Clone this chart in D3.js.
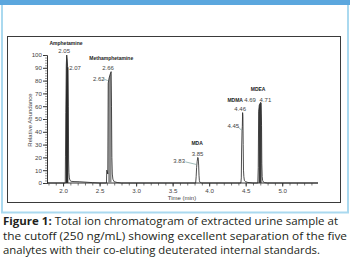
<!DOCTYPE html>
<html><head><meta charset="utf-8">
<script src="https://cdn.jsdelivr.net/npm/d3@7"></script>
<style>html,body{margin:0;padding:0;background:#fff;}svg{display:block;}</style>
</head><body>
<script>
// ---- data ----
const yTicks = [0,10,20,30,40,50,60,70,80,90,100];
const xTicks = [2.0,2.5,3.0,3.5,4.0,4.5,5.0];
const xTickLabels = ["2.0","2.5","3.0","3.5","4.0","4.5","5.0"];
const baselineA = [[1.78,0],[2.00,0],[2.030,0]];
const amphetamine = [[2.033,21],[2.038,55],[2.044,92],[2.050,100],[2.056,97],[2.062,91],[2.068,90],[2.072,60],[2.076,18],[2.080,8],[2.086,4],[2.095,2],[2.11,1.3],[2.15,1.1],[2.22,1],[2.30,0.7],[2.40,0.3],[2.50,0]];
const methamphetamine = [[2.594,0],[2.598,10],[2.606,9],[2.612,7],[2.618,78],[2.630,82],[2.645,85],[2.658,87],[2.663,60],[2.668,20],[2.674,7],[2.682,3],[2.70,1],[2.74,0.4],[2.80,0]];
const mda = [[3.00,0],[3.50,0],[3.815,0],[3.822,5],[3.828,12],[3.836,17],[3.844,20],[3.850,19.5],[3.856,14],[3.861,6],[3.866,2],[3.872,0.8],[3.88,0.3],[3.90,0]];
const mdma = [[4.00,0],[4.30,0],[4.434,0],[4.440,4],[4.444,25],[4.450,41],[4.454,44],[4.458,55],[4.462,52],[4.466,30],[4.470,10],[4.475,5],[4.482,2],[4.50,1],[4.53,0.4],[4.60,0]];
const mdea = [[4.666,0],[4.672,12],[4.678,56],[4.686,61],[4.695,62],[4.705,63],[4.712,62.5],[4.717,45],[4.721,15],[4.726,5],[4.732,2],[4.742,0.8],[4.76,0.3],[4.80,0],[5.00,0],[5.20,0],[5.49,0]];
const filledPeaks = [
  {from:2.036, to:2.074, color:"#2b2b2b"},
  {from:2.616, to:2.664, color:"#8c8c8c"},
  {from:4.676, to:4.719, color:"#3a3a3a"}
];
const compoundLabels = [
  {text:"Amphetamine", t:2.04, v:108},
  {text:"Methamphetamine", t:2.66, v:96},
  {text:"MDA", t:3.835, v:29.7},
  {text:"MDMA", t:4.356, v:63},
  {text:"MDEA", t:4.67, v:72}
];
const rtLabels = [
  {text:"2.05", t:2.015, v:101.5},
  {text:"2.07", t:2.165, v:88},
  {text:"2.66", t:2.616, v:88},
  {text:"2.62", t:2.49, v:80},
  {text:"3.85", t:3.84, v:21},
  {text:"3.83", t:3.59, v:15.6},
  {text:"4.46", t:4.425, v:56},
  {text:"4.45", t:4.33, v:43},
  {text:"4.69", t:4.56, v:63},
  {text:"4.71", t:4.77, v:63}
];
const leaders = [
  {t1:3.675, v1:16.5, t2:3.823, v2:14.5},
  {t1:4.395, v1:44, t2:4.446, v2:41},
  {t1:2.545, v1:81.5, t2:2.612, v2:80}
];
const captionLines = [
  ["Figure 1:", " Total ion chromatogram of extracted urine sample at"],
  ["", "the cutoff (250 ng/mL) showing excellent separation of the five"],
  ["", "analytes with their co-eluting deuterated internal standards."]
];

// ---- drawing ----
const W = 350, H = 267;
const svg = d3.select("body").append("svg").attr("width", W).attr("height", H);

// frame
svg.append("rect").attr("x",0).attr("y",0).attr("width",W).attr("height",5).attr("fill","#5ba7de");
svg.append("path").attr("d","M2,5V212.5H348V5").attr("fill","none").attr("stroke","#aad9ef").attr("stroke-width",2);
svg.append("rect").attr("x",7.5).attr("y",36.5).attr("width",333).attr("height",166).attr("fill","#fff").attr("stroke","#3a3a3a").attr("stroke-width",1);

const x = d3.scaleLinear().domain([1.78, 5.49]).range([47, 318]);
const y = d3.scaleLinear().domain([0, 100]).range([183, 55]);

const txt = "#444";
const font = "Liberation Sans, Arial, sans-serif";

// y axis
const yAxis = d3.axisLeft(y).tickValues(yTicks).tickSize(4).tickPadding(1).tickFormat(d3.format("d"));
const gy = svg.append("g").attr("transform",`translate(${x(1.78)},0)`).call(yAxis);
gy.select(".domain").attr("stroke","#333");
gy.selectAll(".tick line").attr("stroke","#333");
gy.selectAll("text").attr("font-family",font).attr("font-size",6.2).attr("fill",txt);
const yMinor = d3.axisLeft(y).tickValues(d3.range(0,101,2)).tickSize(2).tickFormat("");
const gym = svg.append("g").attr("transform",`translate(${x(1.78)},0)`).call(yMinor);
gym.select(".domain").remove();
gym.selectAll(".tick line").attr("stroke","#555").attr("stroke-width",0.6);

// x axis
const xAxis = d3.axisBottom(x).tickValues(xTicks).tickSize(3.5).tickPadding(2).tickFormat((d,i)=>xTickLabels[i]);
const gx = svg.append("g").attr("transform",`translate(0,${y(0)})`).call(xAxis);
gx.select(".domain").attr("stroke","#333").attr("d",`M${x(1.78)},0H${x(5.49)}`);
gx.selectAll(".tick line").attr("stroke","#333");
gx.selectAll("text").attr("font-family",font).attr("font-size",6.2).attr("fill",txt);
const xMinorVals = d3.range(18,55).map(d=>d/10);
const xMinor = d3.axisBottom(x).tickValues(xMinorVals).tickSize(2.5).tickFormat("");
const gxm = svg.append("g").attr("transform",`translate(0,${y(0)})`).call(xMinor);
gxm.select(".domain").remove();
gxm.selectAll(".tick line").attr("stroke","#444").attr("stroke-width",0.7);

// axis titles
svg.append("text").attr("x",182).attr("y",200).attr("text-anchor","middle")
  .attr("font-family",font).attr("font-size",6).attr("fill",txt).text("Time (min)");
svg.append("text").attr("transform","translate(32,120) rotate(-90)").attr("text-anchor","middle")
  .attr("font-family",font).attr("font-size",6).attr("fill",txt).text("Relative Abundance");

// trace
const trace = [].concat(baselineA, amphetamine, methamphetamine, mda, mdma, mdea);
filledPeaks.forEach(p=>{
  const area = d3.area().x(d=>x(d[0])).y0(y(0)).y1(d=>y(d[1]))
    .defined(d=>d[0]>=p.from && d[0]<=p.to);
  svg.append("path").datum(trace).attr("d",area).attr("fill",p.color);
});
const line = d3.line().x(d=>x(d[0])).y(d=>y(d[1]));
svg.append("path").datum(trace).attr("d",line).attr("fill","none").attr("stroke","#222").attr("stroke-width",0.8);

// leaders
svg.selectAll("line.leader").data(leaders).join("line").attr("class","leader")
  .attr("x1",d=>x(d.t1)).attr("y1",d=>y(d.v1)).attr("x2",d=>x(d.t2)).attr("y2",d=>y(d.v2))
  .attr("stroke","#5f8f8a").attr("stroke-width",0.6);

// labels
svg.selectAll("text.cmp").data(compoundLabels).join("text").attr("class","cmp")
  .attr("x",d=>x(d.t)).attr("y",d=>y(d.v)).attr("text-anchor","middle")
  .attr("font-family",font).attr("font-size",5).attr("font-weight","bold").attr("fill","#222").text(d=>d.text);
svg.selectAll("text.rt").data(rtLabels).join("text").attr("class","rt")
  .attr("x",d=>x(d.t)).attr("y",d=>y(d.v)).attr("text-anchor","middle")
  .attr("font-family",font).attr("font-size",6).attr("fill",txt).text(d=>d.text);

// caption
const capW = [335, 344, 317];
const capY = [225, 239.5, 253.5];
captionLines.forEach((ln,i)=>{
  const t = svg.append("text").attr("x",3).attr("y",capY[i])
    .attr("font-family","'Open Sans', 'Noto Sans', sans-serif").attr("font-size",11.3).attr("fill","#231f20")
    .attr("textLength",capW[i]).attr("lengthAdjust","spacingAndGlyphs");
  if (ln[0]) t.append("tspan").attr("font-weight","bold").text(ln[0]);
  t.append("tspan").text(ln[1]);
});
</script>
</body></html>
